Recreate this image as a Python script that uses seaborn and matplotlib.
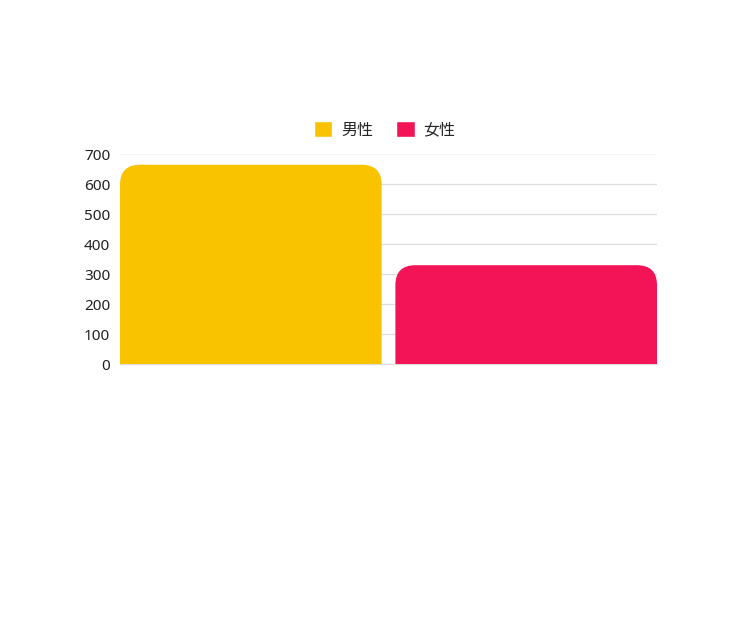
import matplotlib
matplotlib.use('Agg')
import matplotlib.pyplot as plt
import seaborn as sns
import pandas as pd
from matplotlib.patches import FancyBboxPatch

genders = ['男性', '女性']
counts = [665, 330]
colors = ['#F9C300', '#F21456']
y_ticks = [0, 100, 200, 300, 400, 500, 600, 700]

sns.set_style('white')
plt.rcParams['font.family'] = ['Noto Sans CJK JP', 'DejaVu Sans']

df = pd.DataFrame({'group': [''] * len(genders), 'gender': genders, 'count': counts})

fig = plt.figure(figsize=(7.5, 6.4), dpi=100)
ax = fig.add_axes([0.16, 0.431, 0.716, 0.328])
sns.barplot(data=df, x='group', y='count', hue='gender', palette=colors,
            saturation=1, width=1.0, gap=0.05, ax=ax, legend=True)

ax.set_ylim(0, 700)
bars = [p for p in ax.patches if p.get_height() > 0]
x0 = min(p.get_x() for p in bars)
x1 = max(p.get_x() + p.get_width() for p in bars)
ax.set_xlim(x0, x1)

# rounded top corners (radius in pixels)
fig.canvas.draw()
bbox = ax.get_window_extent()
px_x = bbox.width / (x1 - x0)
px_y = bbox.height / 700
r = 20
rx, ry = r / px_x, r / px_y
for p in bars:
    x, w, h = p.get_x(), p.get_width(), p.get_height()
    fc = p.get_facecolor()
    p.set_visible(False)
    fb = FancyBboxPatch((x + rx, -ry * 2), w - 2 * rx, h + ry * 2 - ry,
                        boxstyle=f'round,pad={rx},rounding_size={rx}',
                        mutation_aspect=ry / rx, facecolor=fc, edgecolor='none',
                        zorder=3, clip_on=True)
    ax.add_patch(fb)

ax.set_yticks(y_ticks)
ax.set_yticklabels([str(t) for t in y_ticks], fontsize=11, color='#222222',
                   family=['Noto Sans', 'DejaVu Sans'])
ax.set_xticks([])
ax.set_xlabel('')
ax.set_ylabel('')
ax.tick_params(axis='y', length=0, pad=7)
for t in y_ticks[1:-1]:
    ax.axhline(t, color='#dddddd', lw=0.9, zorder=1)
ax.axhline(700, color='#f4f4f4', lw=1.5, zorder=1)
for s in ['top', 'right', 'left']:
    ax.spines[s].set_visible(False)
ax.spines['bottom'].set_color('#dddddd')
ax.spines['bottom'].set_linewidth(0.9)

handles, labels = ax.get_legend_handles_labels()
ax.legend_.remove()
fig.legend(handles, labels, loc='center', bbox_to_anchor=(0.513, 0.797), ncol=2,
           frameon=False, fontsize=11.5, handlelength=1.15, handleheight=1.15,
           columnspacing=1.45, handletextpad=0.55)

fig.savefig('out.png', dpi=100)
